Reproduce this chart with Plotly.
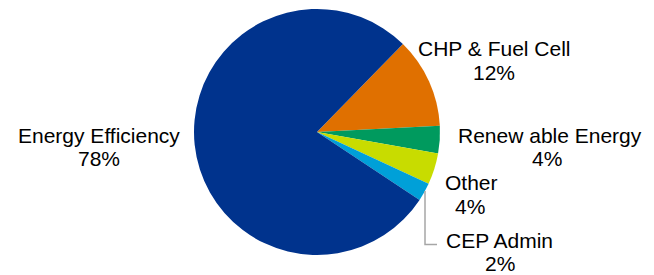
import plotly.graph_objects as go

# The page body has an 8px default margin, so the figure is drawn 8px in from the corner.
OFF = 8
W, H = 654 - OFF, 275 - OFF

categories = ["CHP & Fuel Cell", "Renewable Energy", "Other", "CEP Admin", "Energy Efficiency"]
values = [11.9, 3.6, 4.1, 2.4, 78.0]
pct_labels = ["12%", "4%", "4%", "2%", "78%"]
display_names = ["CHP & Fuel Cell", "Renew able Energy", "Other", "CEP Admin", "Energy Efficiency"]
colors = ["#E07000", "#009A5E", "#C8DC00", "#00A0D8", "#00338D"]

# label line centres in page pixels: (x, y of name), (x, y of percent)
name_pos = [(494, 48.5), (550, 135.8), (471.5, 182), (499.5, 240.5), (99, 135.2)]
pct_pos = [(494, 72.2), (547, 158.7), (470, 206.7), (500, 263.8), (99, 158.7)]


def px(x):
    return (x - OFF) / W


def py(y):
    return 1 - (y - OFF) / H


cx, cy, r = 317, 132, 123

fig = go.Figure(go.Pie(
    labels=categories,
    values=values,
    sort=False,
    direction="clockwise",
    rotation=44.3,
    marker=dict(colors=colors, line=dict(width=0)),
    textinfo="none",
    hoverinfo="label+percent",
    showlegend=False,
    domain=dict(x=[px(cx - r), px(cx + r)], y=[py(cy + r), py(cy - r)]),
))

font = dict(family="Liberation Sans, Arial, sans-serif", size=21, color="#000000")
for name, pct, (nx, ny), (qx, qy) in zip(display_names, pct_labels, name_pos, pct_pos):
    fig.add_annotation(x=px(nx), y=py(ny), xref="paper", yref="paper", text=name,
                       showarrow=False, xanchor="center", yanchor="middle", font=font)
    fig.add_annotation(x=px(qx), y=py(qy), xref="paper", yref="paper", text=pct,
                       showarrow=False, xanchor="center", yanchor="middle", font=font)

# leader line for CEP Admin
fig.add_shape(type="path", xref="paper", yref="paper",
              path=f"M {px(425)} {py(191)} L {px(425)} {py(244.5)} L {px(437)} {py(244.5)}",
              line=dict(color="#A6A6A6", width=1.5))

fig.update_layout(
    width=W, height=H,
    margin=dict(l=0, r=0, t=0, b=0),
    paper_bgcolor="white", plot_bgcolor="white",
)

fig.write_html("out.html")
